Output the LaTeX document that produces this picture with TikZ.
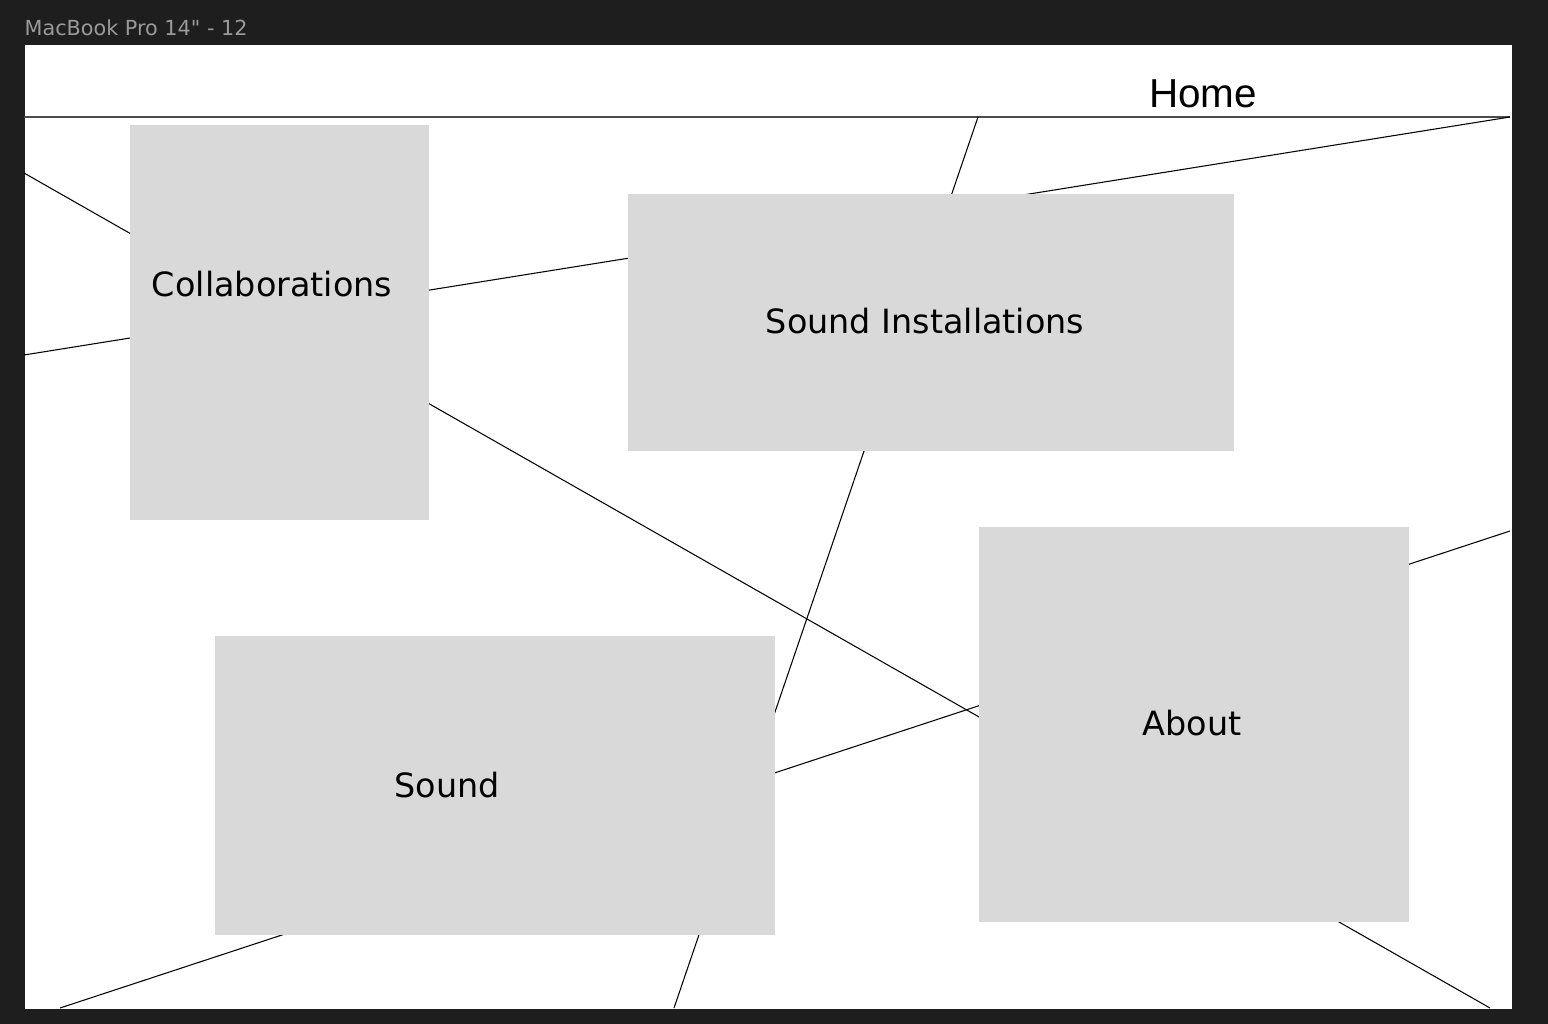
\documentclass[tikz,border=0pt]{standalone}
\usepackage{fontspec}
\setsansfont{DejaVu Sans}
\newfontfamily\homefont{Liberation Sans}
\usetikzlibrary{
  positioning,
  backgrounds,  % Predefined layer named "background"
}
\definecolor{canvas}{HTML}{1E1E1E}
\definecolor{boxgrey}{HTML}{D9D9D9}
\definecolor{titlegrey}{HTML}{9A9A9A}
\tikzset{
  font=\sffamily,
  px/.style={
    x=0.01cm,
    y=-0.01cm
  },
  my frame/.style={
    fill=white,
    draw=none,
    rectangle,
    inner sep=0pt,
    anchor=north west
  },
  my box/.style={
    fill=boxgrey,
    draw=none,
    rectangle,
    inner sep=0pt,
    anchor=north west
  },
  my label/.style={
    anchor=base,
    inner sep=0pt,
    font=\sffamily\fontsize{9.5}{11}\selectfont
  },
  my title/.style={
    anchor=base west,
    inner sep=0pt,
    text=titlegrey,
    font=\sffamily\fontsize{5.9}{7}\selectfont
  },
  my wire/.style={
    line width=0.3pt,
    draw=black
  },
  my rule/.style={
    line width=0.35pt,
    draw=black!70
  }
}

\begin{document}
\begin{tikzpicture}[px]
\fill[canvas] (0,0) rectangle (1548,1024);
\node[my title] (title) at (24,35) {MacBook Pro 14\textquotedbl{} - 12};
\node[my frame,minimum width=14.86cm,minimum height=9.64cm] (frame) at (24,44) {};
\node[anchor=base,inner sep=0pt,font=\homefont\fontsize{11.5}{13}\selectfont] (home) at (1203,107) {Home};
% free ends of the lines on the frame edges
\coordinate (ruleL) at (24,117);
\coordinate (ruleR) at (1510,117);
\coordinate (aL) at (24,173);
\coordinate (aB) at (1490,1008);
\coordinate (bL) at (24,355);
\coordinate (cT) at (978,117);
\coordinate (cB) at (674,1008);
\coordinate (dR) at (1510,531);
\coordinate (dB) at (60,1008);
\draw[my rule] (ruleL) -- (ruleR);
\draw[my wire] (aL) -- (aB);
\draw[my wire] (bL) -- (ruleR);
\draw[my wire] (cT) -- (cB);
\draw[my wire] (dR) -- (dB);
% pages
\node[my box,minimum width=2.99cm,minimum height=3.95cm] (collab) at (129,124) {};
\node[my box,minimum width=6.06cm,minimum height=2.57cm] (install) at (627,193) {};
\node[my box,minimum width=5.60cm,minimum height=2.99cm] (sound) at (214,635) {};
\node[my box,minimum width=4.30cm,minimum height=3.95cm] (about) at (978,526) {};
\node[my label] (collabtxt) at (272,296) {Collaborations};
\node[my label] (installtxt) at (925,333) {Sound Installations};
\node[my label] (soundtxt) at (447,797) {Sound};
\node[my label] (abouttxt) at (1192,735) {About};
\end{tikzpicture}
\end{document}
